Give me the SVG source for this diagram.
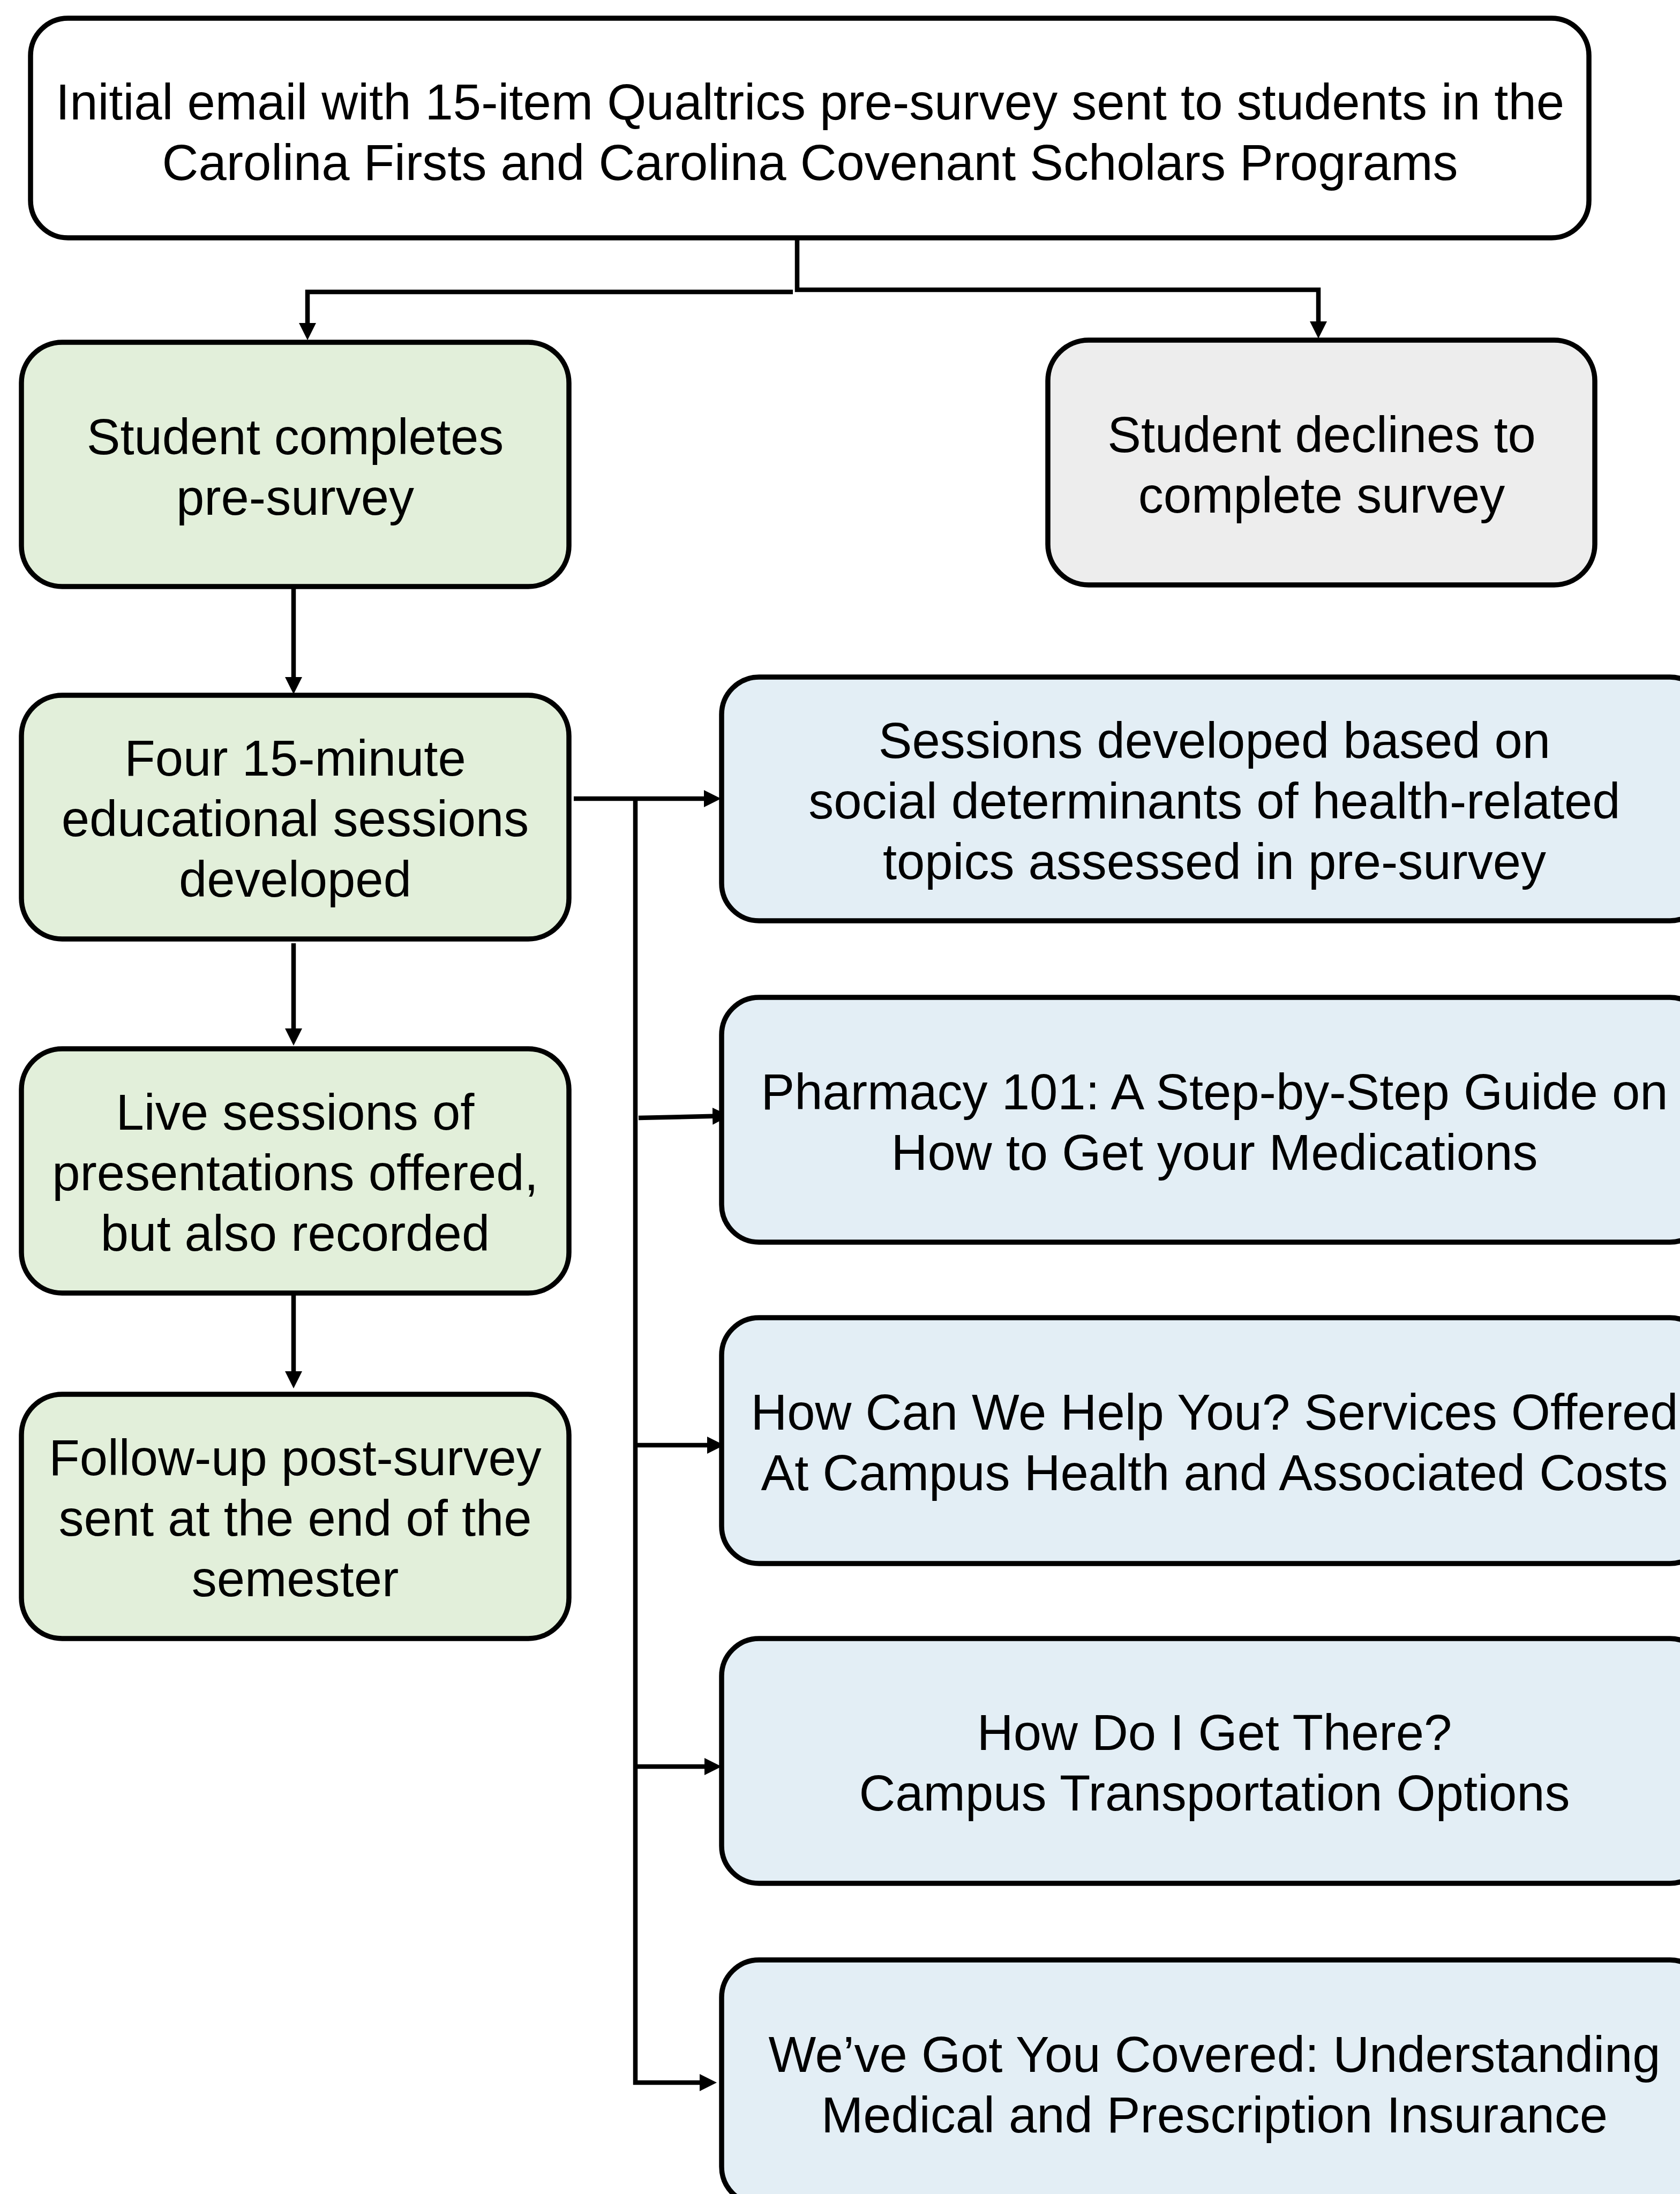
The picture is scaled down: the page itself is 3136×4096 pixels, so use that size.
<svg xmlns="http://www.w3.org/2000/svg" width="3136" height="4096" viewBox="0 0 3136 4096">
  <style>
    .box { stroke: #000; stroke-width: 9.5; }
    .white { fill: #FFFFFF; }
    .green { fill: #E2EFDA; }
    .gray { fill: #EDEDED; }
    .blue { fill: #E3EEF5; }
    .lbl { font-family: "Liberation Sans", Arial, sans-serif; font-size: 94px; fill: #000; text-anchor: middle; }
    .edge { fill: none; stroke: #000; stroke-width: 8.5; }
  </style>
  <defs>
    <marker id="arrow" markerUnits="userSpaceOnUse" markerWidth="34" markerHeight="34" refX="12" refY="16" orient="auto">
      <path d="M0,0 L32,16 L0,32 z" fill="#000"/>
    </marker>
  </defs>

  <rect width="3136" height="4096" fill="#FFFFFF"/>

  <!-- connectors -->
  <g id="connectors" class="edge">
    <path d="M1488,444 V541 H2461 V612" marker-end="url(#arrow)"/>
    <path d="M1480,545 H574 V615" marker-end="url(#arrow)"/>
    <path d="M548,1097 V1276" marker-end="url(#arrow)"/>
    <path d="M548,1761 V1932" marker-end="url(#arrow)"/>
    <path d="M548,2418 V2572" marker-end="url(#arrow)"/>
    <path d="M1071,1491 H1326" marker-end="url(#arrow)"/>
    <path d="M1186,1491 V3888 H1318" marker-end="url(#arrow)"/>
    <path d="M1192,2087 L1342,2083.5" marker-end="url(#arrow)"/>
    <path d="M1186,2698 H1332" marker-end="url(#arrow)"/>
    <path d="M1186,3298 H1327" marker-end="url(#arrow)"/>
  </g>

  <!-- start -->
  <g id="initial-email">
    <rect class="box white" x="57" y="34" width="2909" height="410" rx="70" ry="70"/>
    <text class="lbl" x="1512" y="223">Initial email with 15-item Qualtrics pre-survey sent to students in the</text>
    <text class="lbl" x="1512" y="336">Carolina Firsts and Carolina Covenant Scholars Programs</text>
  </g>

  <!-- left column -->
  <g id="completes">
    <rect class="box green" x="40" y="639" width="1022" height="456" rx="76" ry="76"/>
    <text class="lbl" x="551" y="848">Student completes</text>
    <text class="lbl" x="551" y="961">pre-survey</text>
  </g>

  <g id="declines">
    <rect class="box gray" x="1956" y="635" width="1021" height="457" rx="76" ry="76"/>
    <text class="lbl" x="2467" y="844">Student declines to</text>
    <text class="lbl" x="2467" y="957">complete survey</text>
  </g>

  <g id="sessions-developed">
    <rect class="box green" x="40" y="1298" width="1022" height="455" rx="76" ry="76"/>
    <text class="lbl" x="551" y="1448">Four 15-minute</text>
    <text class="lbl" x="551" y="1561">educational sessions</text>
    <text class="lbl" x="551" y="1674">developed</text>
  </g>

  <g id="live-sessions">
    <rect class="box green" x="40" y="1958" width="1022" height="456" rx="76" ry="76"/>
    <text class="lbl" x="551" y="2109">Live sessions of</text>
    <text class="lbl" x="551" y="2222">presentations offered,</text>
    <text class="lbl" x="551" y="2335">but also recorded</text>
  </g>

  <g id="post-survey">
    <rect class="box green" x="40" y="2603" width="1022" height="456" rx="76" ry="76"/>
    <text class="lbl" x="551" y="2754">Follow-up post-survey</text>
    <text class="lbl" x="551" y="2867">sent at the end of the</text>
    <text class="lbl" x="551" y="2980">semester</text>
  </g>

  <!-- session topics -->
  <g id="topic-basis">
    <rect class="box blue" x="1347" y="1264" width="1840" height="455" rx="70" ry="70"/>
    <text class="lbl" x="2267" y="1415">Sessions developed based on</text>
    <text class="lbl" x="2267" y="1528">social determinants of health-related</text>
    <text class="lbl" x="2267" y="1641">topics assessed in pre-survey</text>
  </g>

  <g id="pharmacy-101">
    <rect class="box blue" x="1347" y="1862" width="1840" height="457" rx="70" ry="70"/>
    <text class="lbl" x="2267" y="2071">Pharmacy 101: A Step-by-Step Guide on</text>
    <text class="lbl" x="2267" y="2184">How to Get your Medications</text>
  </g>

  <g id="campus-health">
    <rect class="box blue" x="1347" y="2460" width="1840" height="459" rx="70" ry="70"/>
    <text class="lbl" x="2267" y="2669">How Can We Help You? Services Offered</text>
    <text class="lbl" x="2267" y="2782">At Campus Health and Associated Costs</text>
  </g>

  <g id="transportation">
    <rect class="box blue" x="1347" y="3059" width="1840" height="457" rx="70" ry="70"/>
    <text class="lbl" x="2267" y="3267">How Do I Get There?</text>
    <text class="lbl" x="2267" y="3380">Campus Transportation Options</text>
  </g>

  <g id="insurance">
    <rect class="box blue" x="1347" y="3659" width="1840" height="456" rx="70" ry="70"/>
    <text class="lbl" x="2267" y="3868">We’ve Got You Covered: Understanding</text>
    <text class="lbl" x="2267" y="3981">Medical and Prescription Insurance</text>
  </g>
</svg>
